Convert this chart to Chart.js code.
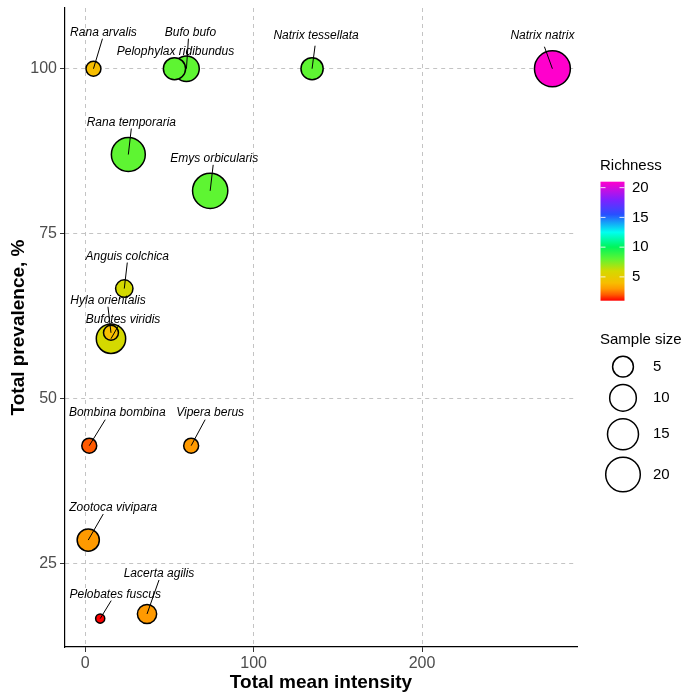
<!DOCTYPE html>
<html>
<head>
<meta charset="utf-8">
<script src="https://cdn.jsdelivr.net/npm/chart.js@4.4.1/dist/chart.umd.min.js"></script>
<style>
  body { margin: 0; background: #ffffff; }
  canvas { display: block; }
</style>
</head>
<body>
<canvas id="mycanvas" width="700" height="700"></canvas>
<script>
// data, in alphabetical order (later points are drawn on top)
var species = ["Anguis colchica", "Bombina bombina", "Bufo bufo", "Bufotes viridis", "Emys orbicularis",
  "Hyla orientalis", "Lacerta agilis", "Natrix natrix", "Natrix tessellata", "Pelobates fuscus",
  "Pelophylax ridibundus", "Rana arvalis", "Rana temporaria", "Vipera berus", "Zootoca vivipara"];
var meanIntensity = [23.2, 2.4, 60.1, 15.3, 74.2, 15.3, 36.7, 277.4, 134.7, 8.9, 53.0, 4.9, 25.6, 62.9, 1.8];
var prevalence = [66.7, 42.9, 100, 59.1, 81.5, 60.0, 17.4, 100, 100, 16.7, 100, 100, 87.0, 42.9, 28.6];
var sampleSize = [3, 2, 9, 13, 21, 2, 4, 22, 6, 1, 6, 2, 19, 2, 6];
var richness = [6, 2, 8, 6, 8, 4, 3, 21, 8, 1, 8, 4, 8, 3, 3];

var xTicks = [0, 100, 200];
var yTicks = [25, 50, 75, 100];
var richnessBreaks = [5, 10, 15, 20];
var sizeBreaks = [5, 10, 15, 20];
var richnessLimits = [1, 21];
var sizeLimits = [1, 22];

// label placement: text offset (dx, dy) and leader end (ex, ey) from the point, in pixels
var labelLayout = [
  [3, -32, 3, -26], [28, -33, 16, -26], [4, -36, 2, -30], [12, -19, 8, -14], [4, -32, 3, -26],
  [-3, -32, -3, -26], [12, -40, 12, -34], [-10, -33, -8, -22], [4, -33, 3, -23], [15, -24, 11, -18],
  [1, -17, null, null], [10, -36, 9, -30], [3, -32, 3, -26], [19, -33, 14, -26], [25, -32, 15, -26]
];

// rainbow colour bar stops
var paletteStops = [
  [1, "#FF0000"], [2, "#FF5A00"], [3, "#FF9A00"], [4, "#F7BE00"], [6, "#D4D900"],
  [8, "#5EF532"], [10, "#00F55A"], [12.5, "#00FFF0"], [15.5, "#2850FF"], [18, "#8020FF"], [21, "#FF00CC"]
];

function hexToRgb(h) {
  return [parseInt(h.substr(1, 2), 16), parseInt(h.substr(3, 2), 16), parseInt(h.substr(5, 2), 16)];
}

function richnessColor(v) {
  if (v <= paletteStops[0][0]) return paletteStops[0][1];
  for (var i = 1; i < paletteStops.length; i++) {
    if (v <= paletteStops[i][0]) {
      var a = paletteStops[i - 1], b = paletteStops[i];
      var t = (v - a[0]) / (b[0] - a[0]);
      var ca = hexToRgb(a[1]), cb = hexToRgb(b[1]);
      var c = [0, 1, 2].map(function (k) { return Math.round(ca[k] + (cb[k] - ca[k]) * t); });
      return "rgb(" + c.join(",") + ")";
    }
  }
  return paletteStops[paletteStops.length - 1][1];
}

// area scale like ggplot: outer radius grows with sqrt of rescaled size
function outerRadius(n) {
  var t = (n - sizeLimits[0]) / (sizeLimits[1] - sizeLimits[0]);
  return 5.3 + 13.4 * Math.sqrt(Math.max(t, 0));
}

var points = [];
var radii = [];
var fills = [];
for (var i = 0; i < species.length; i++) {
  points.push({ x: meanIntensity[i], y: prevalence[i] });
  radii.push(outerRadius(sampleSize[i]) - 0.75);
  fills.push(richnessColor(richness[i]));
}

var FONT = '"Liberation Sans", Arial, sans-serif';

var extras = {
  id: "extras",
  afterDatasetsDraw: function (chart) {
    var ctx = chart.ctx;
    var xs = chart.scales.x, ys = chart.scales.y;
    ctx.save();
    ctx.strokeStyle = "#000";
    ctx.lineWidth = 1;
    for (var i = 0; i < species.length; i++) {
      var L = labelLayout[i];
      if (L[2] === null) continue;
      var px = xs.getPixelForValue(meanIntensity[i]);
      var py = ys.getPixelForValue(prevalence[i]);
      ctx.beginPath();
      ctx.moveTo(px, py);
      ctx.lineTo(px + L[2], py + L[3]);
      ctx.stroke();
    }
    ctx.font = "italic 12px " + FONT;
    ctx.fillStyle = "#000";
    ctx.textAlign = "center";
    ctx.textBaseline = "middle";
    for (var j = 0; j < species.length; j++) {
      var qx = xs.getPixelForValue(meanIntensity[j]);
      var qy = ys.getPixelForValue(prevalence[j]);
      ctx.fillText(species[j], qx + labelLayout[j][0], qy + labelLayout[j][1]);
    }
    ctx.restore();
  },
  afterDraw: function (chart) {
    var ctx = chart.ctx;
    var area = chart.chartArea;
    ctx.save();

    // axis titles
    ctx.fillStyle = "#000";
    ctx.font = "bold 19px " + FONT;
    ctx.textAlign = "center";
    ctx.textBaseline = "middle";
    ctx.fillText("Total mean intensity", (area.left + area.right) / 2, 683);
    ctx.save();
    ctx.translate(19, (area.top + area.bottom) / 2);
    ctx.rotate(-Math.PI / 2);
    ctx.fillText("Total prevalence, %", 0, 0);
    ctx.restore();

    // colour bar legend
    var barX = 600.5, barW = 24, barTop = 181.7, barBot = 300.7;
    ctx.font = "15px " + FONT;
    ctx.textAlign = "left";
    ctx.fillText("Richness", 600, 166);
    var grad = ctx.createLinearGradient(0, barBot, 0, barTop);
    var span = richnessLimits[1] - richnessLimits[0];
    paletteStops.forEach(function (s) {
      grad.addColorStop((s[0] - richnessLimits[0]) / span, s[1]);
    });
    ctx.fillStyle = grad;
    ctx.fillRect(barX, barTop, barW, barBot - barTop);
    ctx.strokeStyle = "rgba(255,255,255,0.85)";
    ctx.lineWidth = 1;
    ctx.fillStyle = "#000";
    richnessBreaks.forEach(function (b) {
      var y = barBot - (b - richnessLimits[0]) / span * (barBot - barTop);
      ctx.beginPath();
      ctx.moveTo(barX, y); ctx.lineTo(barX + 5, y);
      ctx.moveTo(barX + barW - 5, y); ctx.lineTo(barX + barW, y);
      ctx.stroke();
      ctx.fillText(String(b), 632, y);
    });

    // size legend
    ctx.fillText("Sample size", 600, 340);
    var cy = 366.7, prevR = null;
    ctx.strokeStyle = "#000";
    ctx.lineWidth = 1.5;
    sizeBreaks.forEach(function (s) {
      var r = outerRadius(s);
      if (prevR !== null) cy += prevR + r + 6;
      ctx.beginPath();
      ctx.arc(623, cy, r - 0.75, 0, Math.PI * 2);
      ctx.stroke();
      ctx.fillText(String(s), 653, cy);
      prevR = r;
    });
    ctx.restore();
  }
};

// keep the plot panel exactly where the reference has it
function noPadding(scale) {
  scale.paddingTop = 0;
  scale.paddingBottom = 0;
  scale.paddingLeft = 0;
  scale.paddingRight = 0;
}

var ctx = document.getElementById("mycanvas");

var bubbleChart = new Chart(ctx, {
  type: "scatter",
  data: {
    datasets: [{
      label: "species",
      data: points,
      pointRadius: radii,
      pointHoverRadius: radii,
      pointBackgroundColor: fills,
      pointBorderColor: "#000",
      pointBorderWidth: 1.5,
      pointHoverBorderWidth: 1.5
    }]
  },
  options: {
    responsive: false,
    animation: false,
    devicePixelRatio: 1,
    events: [],
    layout: { autoPadding: false, padding: { top: 8, right: 123, left: 0, bottom: 0 } },
    plugins: { legend: { display: false }, tooltip: { enabled: false } },
    scales: {
      x: {
        type: "linear",
        min: -12,
        max: 292,
        afterBuildTicks: function (scale) { scale.ticks = xTicks.map(function (v) { return { value: v }; }); },
        afterFit: function (scale) { scale.height = 53; noPadding(scale); },
        grid: { color: "#C4C4C4", lineWidth: 1, tickLength: 5, tickColor: "#333333", tickWidth: 1 },
        border: { display: true, color: "#000", width: 1.2, dash: [4, 4] },
        ticks: { color: "#4D4D4D", font: { family: FONT, size: 16 }, padding: 2, maxRotation: 0 }
      },
      y: {
        type: "linear",
        min: 12.4,
        max: 109.2,
        afterBuildTicks: function (scale) { scale.ticks = yTicks.map(function (v) { return { value: v }; }); },
        afterFit: function (scale) { scale.width = 65; noPadding(scale); },
        grid: { color: "#C4C4C4", lineWidth: 1, tickLength: 5, tickColor: "#333333", tickWidth: 1 },
        border: { display: true, color: "#000", width: 1.2, dash: [4, 4] },
        ticks: { color: "#4D4D4D", font: { family: FONT, size: 16 }, padding: 3 }
      }
    }
  },
  plugins: [extras]
});
</script>
</body>
</html>
